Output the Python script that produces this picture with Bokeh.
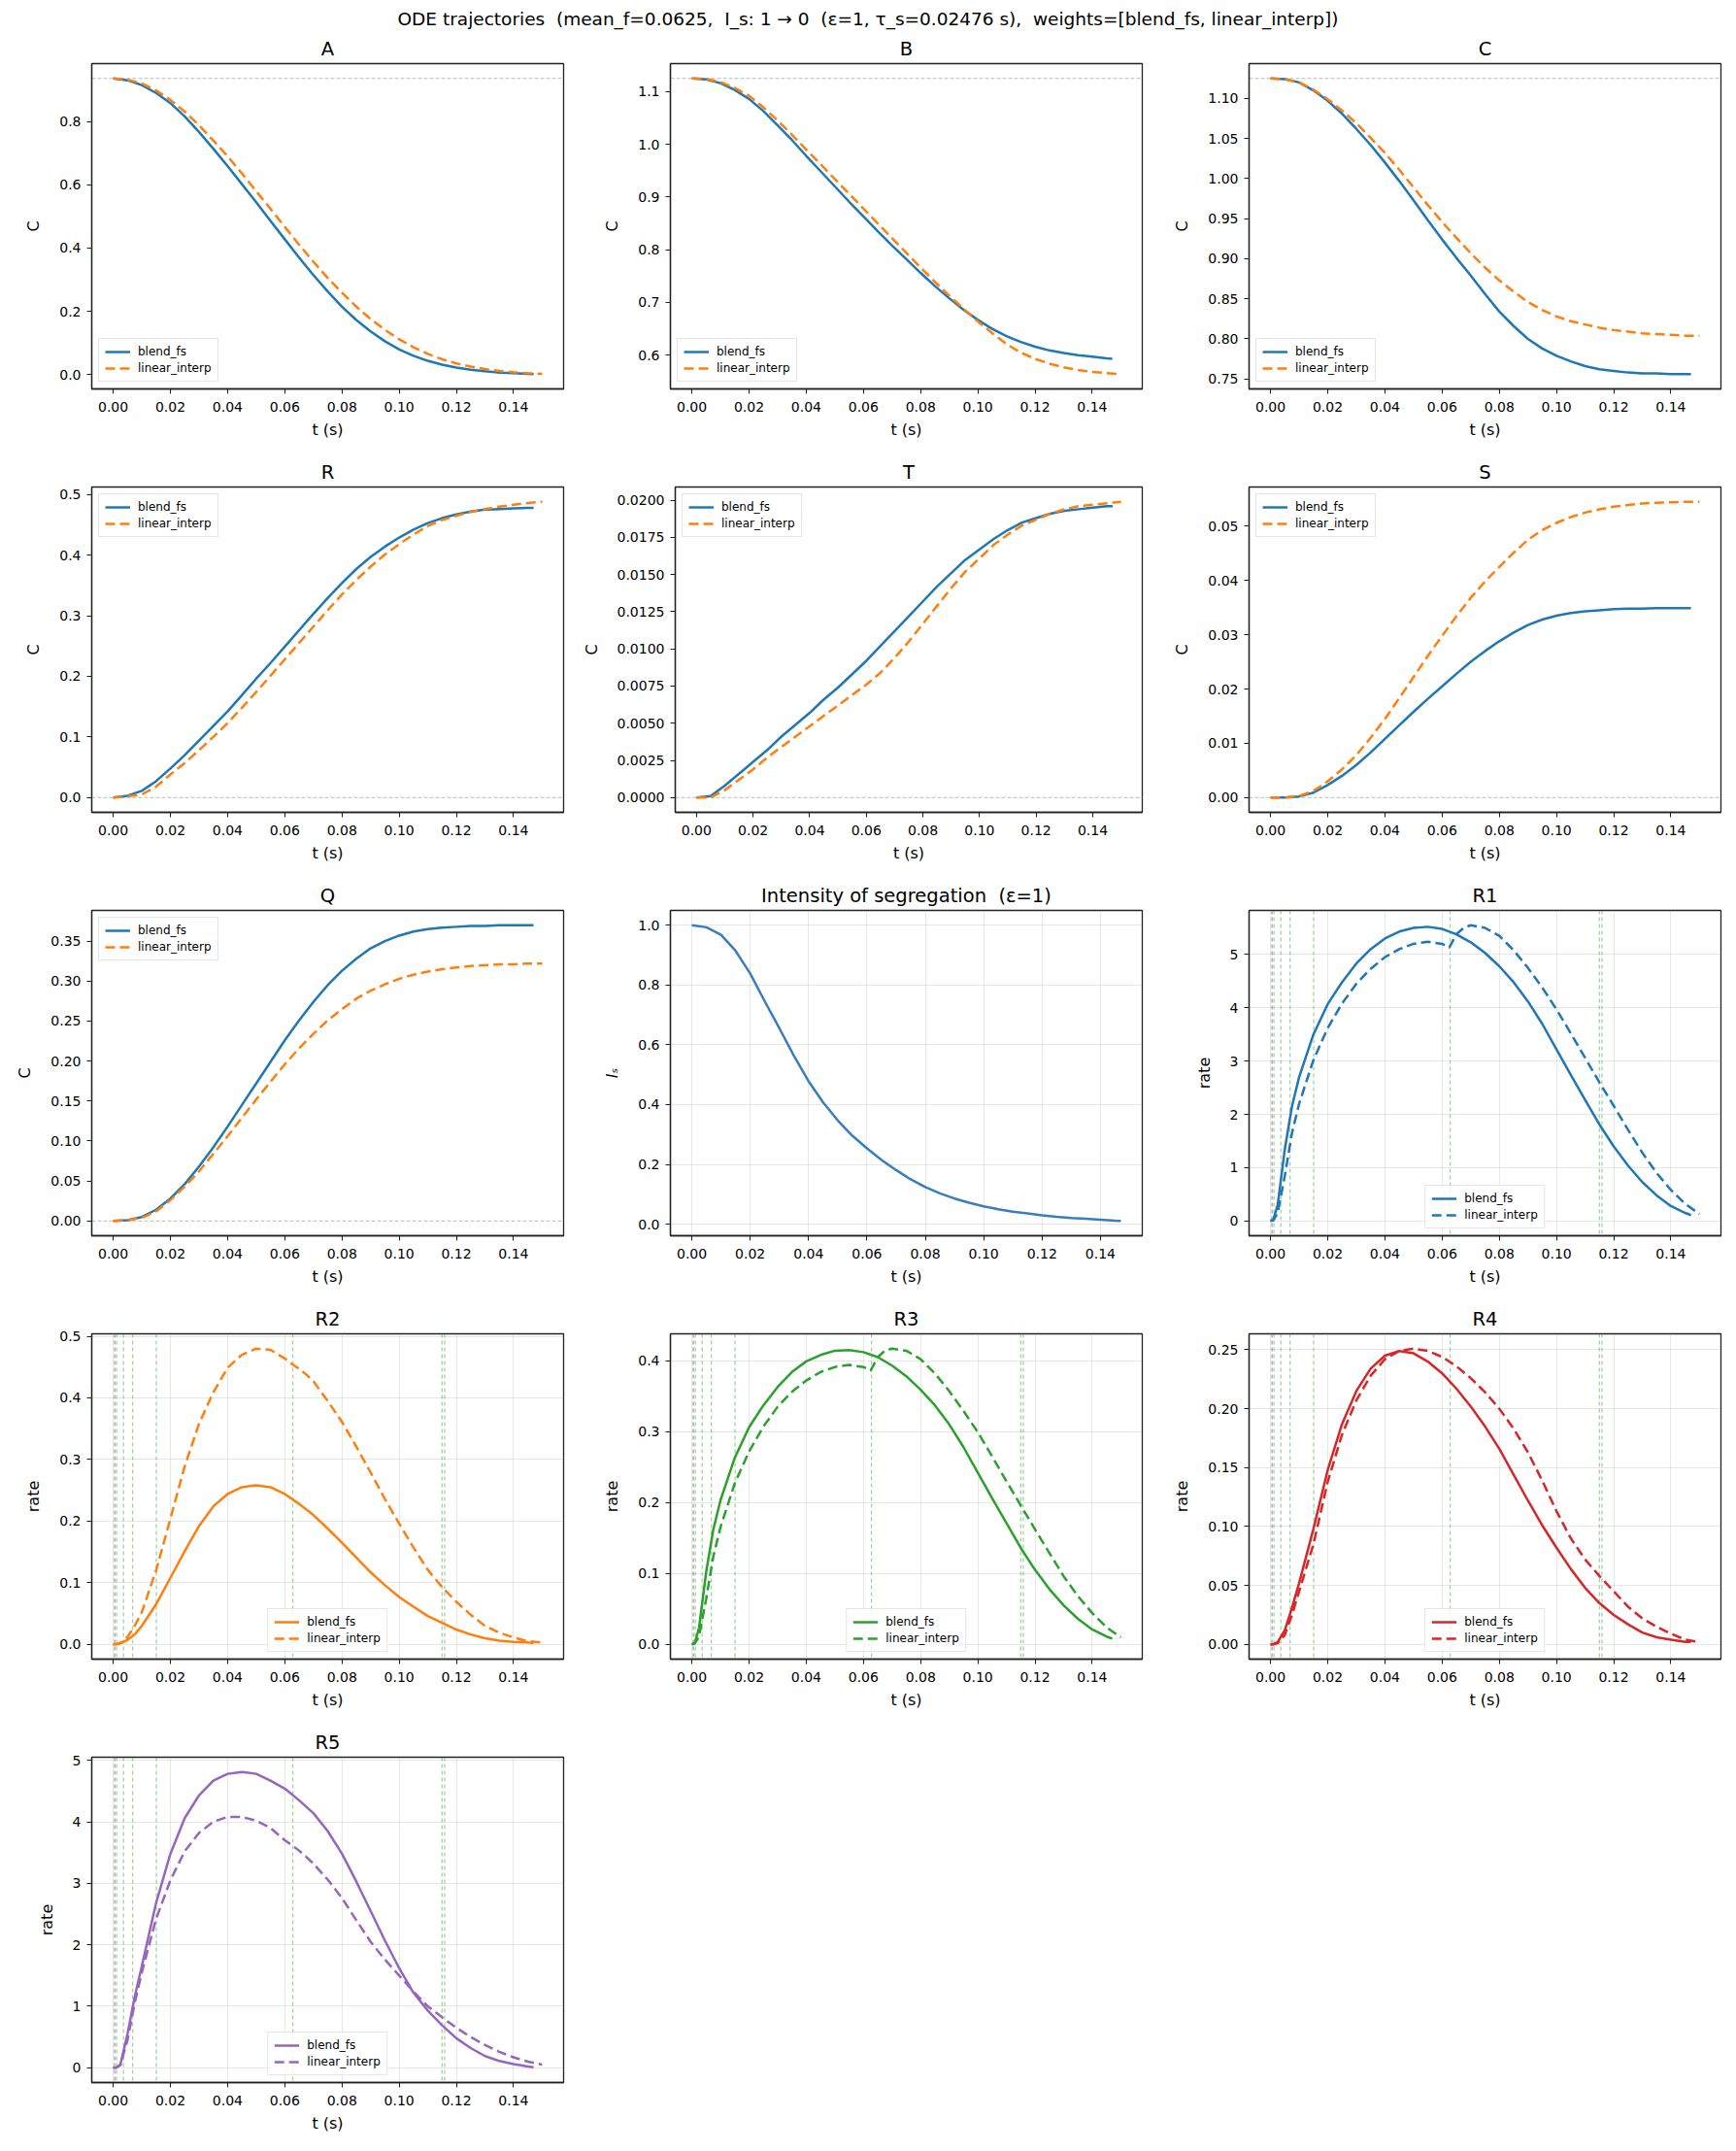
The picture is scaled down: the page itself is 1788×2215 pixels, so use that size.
from bokeh.plotting import figure
from bokeh.models import Span, FixedTicker, PrintfTickFormatter, Range1d, Div
from bokeh.layouts import column, row
from bokeh.embed import file_html
from bokeh.resources import INLINE

# ---------------- time grids (s) ----------------
TIME_BLEND = [0.000, 0.005, 0.010, 0.015, 0.020, 0.025, 0.030, 0.035, 0.040, 0.045,
              0.050, 0.055, 0.060, 0.065, 0.070, 0.075, 0.080, 0.085, 0.090, 0.095,
              0.100, 0.105, 0.110, 0.115, 0.120, 0.125, 0.130, 0.135, 0.140, 0.145,
              0.147]
TIME_LIN = [0.000, 0.005, 0.010, 0.015, 0.020, 0.025, 0.030, 0.035, 0.040, 0.045,
            0.050, 0.055, 0.060, 0.065, 0.070, 0.075, 0.080, 0.085, 0.090, 0.095,
            0.100, 0.105, 0.110, 0.115, 0.120, 0.125, 0.130, 0.135, 0.140, 0.145,
            0.150]
TIME_RATE_BLEND = [0.000, 0.001, 0.0025, 0.005, 0.0075, 0.010,
                   0.015, 0.020, 0.025, 0.030, 0.035, 0.040, 0.045, 0.050, 0.055, 0.060,
                   0.065, 0.070, 0.075, 0.080, 0.085, 0.090, 0.095, 0.100,
                   0.105, 0.110, 0.115, 0.120, 0.125, 0.130, 0.135, 0.140, 0.145,
                   0.147]
TIME_RATE_LIN = [0.000, 0.001, 0.0025, 0.005, 0.0075, 0.010,
                 0.015, 0.020, 0.025, 0.030, 0.035, 0.040, 0.045, 0.050, 0.055, 0.060,
                 0.0625, 0.065, 0.0675, 0.070,
                 0.075, 0.080, 0.085, 0.090, 0.095, 0.100, 0.105, 0.110, 0.115, 0.120,
                 0.125, 0.130, 0.135, 0.140, 0.145,
                 0.150]

# ---------------- concentrations ----------------
A_BLEND = [0.936, 0.930, 0.915, 0.890, 0.858, 0.816, 0.767, 0.714, 0.659, 0.602,
           0.545, 0.486, 0.428, 0.370, 0.315, 0.263, 0.215, 0.173, 0.137, 0.106,
           0.080, 0.060, 0.044, 0.032, 0.023, 0.016, 0.011, 0.007, 0.005, 0.003,
           0.002]
A_LIN = [0.936, 0.932, 0.920, 0.898, 0.868, 0.831, 0.788, 0.740, 0.690, 0.636,
         0.580, 0.524, 0.467, 0.411, 0.357, 0.306, 0.259, 0.215, 0.176, 0.142,
         0.112, 0.087, 0.066, 0.049, 0.036, 0.026, 0.018, 0.012, 0.008, 0.005,
         0.003]
B_BLEND = [1.125, 1.123, 1.116, 1.103, 1.086, 1.063, 1.036, 1.008, 0.978, 0.949,
           0.920, 0.891, 0.863, 0.835, 0.808, 0.782, 0.756, 0.731, 0.708, 0.686,
           0.667, 0.650, 0.636, 0.625, 0.616, 0.609, 0.604, 0.600, 0.597, 0.594,
           0.593]
B_LIN = [1.125, 1.124, 1.118, 1.107, 1.092, 1.070, 1.045, 1.018, 0.990, 0.962,
         0.934, 0.906, 0.878, 0.850, 0.822, 0.794, 0.766, 0.739, 0.713, 0.688,
         0.664, 0.642, 0.621, 0.605, 0.593, 0.584, 0.577, 0.572, 0.568, 0.566,
         0.564]
C_BLEND = [1.125, 1.124, 1.120, 1.110, 1.097, 1.081, 1.062, 1.042, 1.020, 0.997,
           0.973, 0.948, 0.924, 0.901, 0.879, 0.856, 0.834, 0.816, 0.800, 0.788,
           0.779, 0.772, 0.766, 0.762, 0.760, 0.758, 0.757, 0.757, 0.756, 0.756,
           0.756]
C_LIN = [1.125, 1.124, 1.120, 1.111, 1.099, 1.085, 1.069, 1.051, 1.032, 1.011,
         0.989, 0.967, 0.946, 0.926, 0.907, 0.889, 0.873, 0.859, 0.846, 0.836,
         0.828, 0.822, 0.818, 0.814, 0.811, 0.809, 0.807, 0.806, 0.805, 0.804,
         0.804]
R_BLEND = [0.000, 0.003, 0.011, 0.027, 0.048, 0.070, 0.094, 0.118, 0.142, 0.169,
           0.196, 0.222, 0.249, 0.276, 0.303, 0.329, 0.354, 0.377, 0.397, 0.414,
           0.429, 0.442, 0.453, 0.461, 0.467, 0.472, 0.475, 0.476, 0.477, 0.478,
           0.478]
R_LIN = [0.000, 0.002, 0.005, 0.018, 0.038, 0.057, 0.078, 0.100, 0.123, 0.148,
         0.174, 0.201, 0.228, 0.255, 0.282, 0.309, 0.335, 0.359, 0.381, 0.401,
         0.418, 0.434, 0.448, 0.458, 0.465, 0.471, 0.476, 0.480, 0.483, 0.486,
         0.488]
T_BLEND = [0.0000, 0.0001, 0.0008, 0.0016, 0.0024, 0.0032, 0.0041, 0.0049, 0.0057, 0.0066,
           0.0074, 0.0083, 0.0092, 0.0102, 0.0112, 0.0122, 0.0132, 0.0142, 0.0151, 0.0160,
           0.0167, 0.0174, 0.0180, 0.0185, 0.0188, 0.0191, 0.0193, 0.0194, 0.0195, 0.0196,
           0.0196]
T_LIN = [0.0000, 0.0000, 0.0005, 0.0012, 0.0019, 0.0027, 0.0034, 0.0041, 0.0048, 0.0055,
         0.0062, 0.0069, 0.0076, 0.0084, 0.0094, 0.0105, 0.0117, 0.0129, 0.0141, 0.0152,
         0.0161, 0.0170, 0.0177, 0.0183, 0.0187, 0.0191, 0.0194, 0.0196, 0.0197, 0.0198,
         0.0199]
S_BLEND = [0.0000, 0.0000, 0.0002, 0.0009, 0.0023, 0.0040, 0.0060, 0.0083, 0.0108, 0.0133,
           0.0158, 0.0182, 0.0205, 0.0228, 0.0250, 0.0270, 0.0288, 0.0304, 0.0318, 0.0328,
           0.0335, 0.0340, 0.0343, 0.0345, 0.0347, 0.0348, 0.0348, 0.0349, 0.0349, 0.0349,
           0.0349]
S_LIN = [0.0000, 0.0000, 0.0003, 0.0012, 0.0030, 0.0052, 0.0078, 0.0110, 0.0145, 0.0183,
         0.0222, 0.0261, 0.0298, 0.0334, 0.0368, 0.0398, 0.0425, 0.0451, 0.0475, 0.0493,
         0.0506, 0.0517, 0.0525, 0.0531, 0.0536, 0.0539, 0.0542, 0.0543, 0.0544, 0.0545,
         0.0545]
Q_BLEND = [0.000, 0.001, 0.005, 0.014, 0.028, 0.046, 0.068, 0.092, 0.118, 0.145,
           0.172, 0.199, 0.226, 0.251, 0.274, 0.295, 0.313, 0.328, 0.341, 0.350,
           0.357, 0.362, 0.365, 0.367, 0.368, 0.369, 0.369, 0.370, 0.370, 0.370,
           0.370]
Q_LIN = [0.000, 0.001, 0.004, 0.012, 0.026, 0.043, 0.062, 0.084, 0.106, 0.129,
         0.152, 0.174, 0.196, 0.216, 0.234, 0.251, 0.265, 0.278, 0.288, 0.296,
         0.303, 0.308, 0.312, 0.315, 0.317, 0.319, 0.320, 0.321, 0.321, 0.322,
         0.322]

# intensity of segregation
IS = [1.000, 0.993, 0.968, 0.914, 0.838, 0.745, 0.655, 0.563, 0.478, 0.407,
      0.347, 0.296, 0.254, 0.215, 0.181, 0.150, 0.124, 0.103, 0.086, 0.072,
      0.060, 0.050, 0.042, 0.036, 0.030, 0.025, 0.021, 0.018, 0.015, 0.012,
      0.011]

# ---------------- reaction rates ----------------
R1_BLEND = [0.00, 0.03, 0.30, 1.35, 2.15, 2.70,
            3.50, 4.07, 4.48, 4.83, 5.10, 5.30, 5.43, 5.50, 5.52, 5.48,
            5.38, 5.23, 5.03, 4.78, 4.48, 4.12, 3.70, 3.22,
            2.74, 2.27, 1.81, 1.40, 1.04, 0.73, 0.48, 0.28, 0.15,
            0.11]
R1_LIN = [0.00, 0.01, 0.15, 0.85, 1.65, 2.20,
          3.02, 3.62, 4.08, 4.45, 4.73, 4.95, 5.10, 5.20, 5.24, 5.20,
          5.13, 5.38, 5.50, 5.55,
          5.50, 5.35, 5.08, 4.75, 4.38, 3.97, 3.52, 3.06, 2.60, 2.16,
          1.71, 1.28, 0.90, 0.58, 0.32,
          0.13]
R2_BLEND = [0.000, 0.000, 0.002, 0.007, 0.016, 0.030,
            0.065, 0.108, 0.151, 0.192, 0.224, 0.244, 0.255, 0.258, 0.255, 0.244,
            0.228, 0.210, 0.188, 0.165, 0.141, 0.117, 0.096, 0.077,
            0.061, 0.046, 0.035, 0.024, 0.016, 0.010, 0.006, 0.004, 0.003,
            0.002]
R2_LIN = [0.000, 0.000, 0.002, 0.012, 0.030, 0.052,
          0.120, 0.204, 0.289, 0.358, 0.409, 0.449, 0.470, 0.480, 0.478, 0.464,
          0.455, 0.447, 0.438, 0.427,
          0.395, 0.361, 0.321, 0.279, 0.236, 0.196, 0.157, 0.121, 0.093, 0.069,
          0.048, 0.030, 0.019, 0.011, 0.005,
          0.003]
R3_BLEND = [0.000, 0.002, 0.023, 0.102, 0.162, 0.203,
            0.263, 0.306, 0.337, 0.363, 0.384, 0.399, 0.408, 0.414, 0.415, 0.412,
            0.405, 0.393, 0.378, 0.359, 0.337, 0.310, 0.278, 0.242,
            0.206, 0.171, 0.136, 0.105, 0.078, 0.055, 0.036, 0.021, 0.011,
            0.008]
R3_LIN = [0.000, 0.001, 0.011, 0.064, 0.124, 0.165,
          0.227, 0.272, 0.307, 0.335, 0.356, 0.372, 0.384, 0.391, 0.394, 0.391,
          0.386, 0.405, 0.414, 0.417,
          0.414, 0.402, 0.382, 0.357, 0.329, 0.299, 0.265, 0.230, 0.196, 0.162,
          0.129, 0.096, 0.068, 0.044, 0.024,
          0.010]
R4_BLEND = [0.000, 0.000, 0.002, 0.012, 0.031, 0.052,
            0.098, 0.148, 0.187, 0.215, 0.234, 0.245, 0.249, 0.247, 0.240, 0.230,
            0.217, 0.202, 0.185, 0.166, 0.144, 0.122, 0.101, 0.082,
            0.064, 0.048, 0.035, 0.025, 0.017, 0.010, 0.006, 0.004, 0.002,
            0.002]
R4_LIN = [0.000, 0.000, 0.001, 0.008, 0.025, 0.045,
          0.085, 0.138, 0.178, 0.207, 0.228, 0.242, 0.249, 0.251, 0.249, 0.244,
          0.240, 0.236, 0.231, 0.226,
          0.214, 0.200, 0.183, 0.163, 0.139, 0.113, 0.090, 0.072, 0.058, 0.045,
          0.032, 0.022, 0.015, 0.009, 0.004,
          0.002]
R5_BLEND = [0.00, 0.00, 0.05, 0.55, 1.15, 1.65,
            2.68, 3.48, 4.06, 4.43, 4.67, 4.78, 4.81, 4.78, 4.67, 4.54,
            4.35, 4.14, 3.85, 3.48, 3.03, 2.55, 2.07, 1.62,
            1.22, 0.93, 0.69, 0.48, 0.32, 0.19, 0.11, 0.06, 0.02,
            0.01]
R5_LIN = [0.00, 0.00, 0.04, 0.45, 1.05, 1.55,
          2.42, 3.05, 3.52, 3.82, 4.00, 4.08, 4.08, 4.02, 3.90, 3.70,
          3.62, 3.53, 3.43, 3.32,
          3.06, 2.76, 2.40, 2.05, 1.76, 1.50, 1.24, 1.00, 0.82, 0.65,
          0.50, 0.37, 0.26, 0.17, 0.10,
          0.05]

# event markers on the rate panels
EVENT_GREY = [0.0005]
EVENT_GREEN = [0.0012, 0.0036, 0.0068, 0.0151, 0.0628, 0.1150, 0.1159]

# ---------------- ticks ----------------
X_TICKS = [0.00, 0.02, 0.04, 0.06, 0.08, 0.10, 0.12, 0.14]
YT_A = [0.0, 0.2, 0.4, 0.6, 0.8]
YT_B = [0.6, 0.7, 0.8, 0.9, 1.0, 1.1]
YT_C = [0.75, 0.80, 0.85, 0.90, 0.95, 1.00, 1.05, 1.10]
YT_R = [0.0, 0.1, 0.2, 0.3, 0.4, 0.5]
YT_T = [0.0, 0.0025, 0.0050, 0.0075, 0.0100, 0.0125, 0.0150, 0.0175, 0.0200]
YT_S = [0.00, 0.01, 0.02, 0.03, 0.04, 0.05]
YT_Q = [0.00, 0.05, 0.10, 0.15, 0.20, 0.25, 0.30, 0.35]
YT_IS = [0.0, 0.2, 0.4, 0.6, 0.8, 1.0]
YT_R1 = [0, 1, 2, 3, 4, 5]
YT_R2 = [0.0, 0.1, 0.2, 0.3, 0.4, 0.5]
YT_R3 = [0.0, 0.1, 0.2, 0.3, 0.4]
YT_R4 = [0.00, 0.05, 0.10, 0.15, 0.20, 0.25]
YT_R5 = [0, 1, 2, 3, 4, 5]

SUPTITLE = ("ODE trajectories  (mean_f=0.0625,  I_s: 1 \u2192 0  (\u03b5=1, \u03c4_s=0.02476 s),"
            "  weights=[blend_fs, linear_interp])")
IS_TITLE = "Intensity of segregation \u00a0(\u03b5=1)"

FONT = "DejaVu Sans"
BLUE, ORANGE, GREEN, RED, PURPLE = "#1f77b4", "#ff7f0e", "#2ca02c", "#d62728", "#9467bd"
FIG_W, FIG_H = 596, 436
DASH = "10 5"
LW = 2.5


def base_figure(title, ylabel, xmax, ys, yticks, yfmt, grid, italic_label=False):
    lo = min(min(v) for v in ys)
    hi = max(max(v) for v in ys)
    ypad = 0.05 * (hi - lo)
    xpad = 0.05 * xmax
    p = figure(width=FIG_W, height=FIG_H, output_backend="svg", toolbar_location=None,
               x_range=Range1d(-xpad, xmax + xpad), y_range=Range1d(lo - ypad, hi + ypad),
               min_border_left=94, min_border_right=16, min_border_top=32, min_border_bottom=68,
               background_fill_color="white", border_fill_color="white")
    p.title.text = title
    p.title.text_font = FONT
    p.title.text_font_size = "19.5px"
    p.title.text_font_style = "normal"
    p.title.align = "center"
    p.title.standoff = 8
    p.title.text_color = "black"

    p.outline_line_color = "#222222"
    p.outline_line_width = 1.3
    p.outline_line_alpha = 1.0

    for ax in (p.xaxis[0], p.yaxis[0]):
        ax.axis_label_text_font = FONT
        ax.axis_label_text_font_size = "16px"
        ax.axis_label_text_font_style = "normal"
        ax.axis_label_text_color = "black"
        ax.major_label_text_font = FONT
        ax.major_label_text_font_size = "14px"
        ax.major_label_text_color = "black"
        ax.axis_line_color = "#222222"
        ax.axis_line_width = 1.3
        ax.major_tick_line_color = "#222222"
        ax.major_tick_line_width = 1.1
        ax.major_tick_out = 5
        ax.major_tick_in = 0
        ax.minor_tick_out = 0
        ax.minor_tick_in = 0

    p.xaxis.major_label_standoff = 8
    p.xaxis.axis_label_standoff = 6
    p.yaxis.major_label_standoff = 6
    p.yaxis.axis_label_standoff = 14

    p.xaxis.axis_label = "t (s)"
    p.xaxis.ticker = FixedTicker(ticks=X_TICKS)
    p.xaxis.formatter = PrintfTickFormatter(format="%.2f")
    p.yaxis.axis_label = ylabel
    if italic_label:
        p.yaxis.axis_label_text_font_style = "italic"
    p.yaxis.ticker = FixedTicker(ticks=yticks)
    p.yaxis.formatter = PrintfTickFormatter(format=yfmt)

    if grid:
        for g in (p.xgrid[0], p.ygrid[0]):
            g.grid_line_color = "#b0b0b0"
            g.grid_line_alpha = 0.3
            g.grid_line_width = 1
        p.xgrid.ticker = FixedTicker(ticks=X_TICKS)
        p.ygrid.ticker = FixedTicker(ticks=yticks)
    else:
        p.xgrid.visible = False
        p.ygrid.visible = False
    return p


def style_legend(p, location):
    leg = p.legend[0]
    leg.location = location
    leg.label_text_font = FONT
    leg.label_text_font_size = "12px"
    leg.label_text_color = "black"
    leg.glyph_width = 26
    leg.glyph_height = 14
    leg.label_height = 14
    leg.label_standoff = 8
    leg.spacing = 3
    leg.padding = 6
    leg.margin = 7
    leg.border_line_color = "#cccccc"
    leg.border_line_width = 1
    leg.background_fill_color = "white"
    leg.background_fill_alpha = 0.8


def conc_panel(title, blend, lin, ref, yticks, yfmt, legend_loc):
    p = base_figure(title, "C", TIME_LIN[-1], [blend, lin, [ref]], yticks, yfmt, grid=False)
    p.add_layout(Span(location=ref, dimension="width", line_color="#bbbbbb",
                      line_width=1, line_dash="4 2", level="underlay"))
    p.line(TIME_BLEND, blend, line_color=BLUE, line_width=LW, legend_label="blend_fs")
    p.line(TIME_LIN, lin, line_color=ORANGE, line_width=LW, line_dash=DASH,
           legend_label="linear_interp")
    style_legend(p, legend_loc)
    return p


def rate_panel(title, blend, lin, color, yticks, yfmt):
    p = base_figure(title, "rate", TIME_RATE_LIN[-1], [blend, lin], yticks, yfmt, grid=True)
    for t in EVENT_GREY:
        p.add_layout(Span(location=t, dimension="height", line_color="#7f7f7f",
                          line_alpha=0.75, line_width=1.3, line_dash="4 3", level="underlay"))
    for t in EVENT_GREEN:
        p.add_layout(Span(location=t, dimension="height", line_color=GREEN,
                          line_alpha=0.45, line_width=1.3, line_dash="4 3", level="underlay"))
    p.line(TIME_RATE_BLEND, blend, line_color=color, line_width=LW, legend_label="blend_fs")
    p.line(TIME_RATE_LIN, lin, line_color=color, line_width=LW, line_dash=DASH,
           legend_label="linear_interp")
    style_legend(p, "bottom_center")
    return p


p_a = conc_panel("A", A_BLEND, A_LIN, A_BLEND[0], YT_A, "%.1f", "bottom_left")
p_b = conc_panel("B", B_BLEND, B_LIN, B_BLEND[0], YT_B, "%.1f", "bottom_left")
p_c = conc_panel("C", C_BLEND, C_LIN, C_BLEND[0], YT_C, "%.2f", "bottom_left")
p_r = conc_panel("R", R_BLEND, R_LIN, 0.0, YT_R, "%.1f", "top_left")
p_t = conc_panel("T", T_BLEND, T_LIN, 0.0, YT_T, "%.4f", "top_left")
p_s = conc_panel("S", S_BLEND, S_LIN, 0.0, YT_S, "%.2f", "top_left")
p_q = conc_panel("Q", Q_BLEND, Q_LIN, 0.0, YT_Q, "%.2f", "top_left")

p_is = base_figure(IS_TITLE, "I\u209b", TIME_BLEND[-1], [IS],
                   YT_IS, "%.1f", grid=True, italic_label=True)
p_is.line(TIME_BLEND, IS, line_color="#3a7dbd", line_width=LW)

p_r1 = rate_panel("R1", R1_BLEND, R1_LIN, BLUE, YT_R1, "%.0f")
p_r2 = rate_panel("R2", R2_BLEND, R2_LIN, ORANGE, YT_R2, "%.1f")
p_r3 = rate_panel("R3", R3_BLEND, R3_LIN, GREEN, YT_R3, "%.1f")
p_r4 = rate_panel("R4", R4_BLEND, R4_LIN, RED, YT_R4, "%.2f")
p_r5 = rate_panel("R5", R5_BLEND, R5_LIN, PURPLE, YT_R5, "%.0f")

header = Div(text=SUPTITLE, width=1788, height=32, margin=0,
             styles={"white-space": "pre", "font-family": FONT, "font-size": "18.5px",
                     "text-align": "center", "line-height": "40px", "color": "black"})

layout = column(
    header,
    row(p_a, p_b, p_c),
    row(p_r, p_t, p_s),
    row(p_q, p_is, p_r1),
    row(p_r2, p_r3, p_r4),
    row(p_r5),
)

open("out.html", "w").write(file_html(layout, INLINE))
